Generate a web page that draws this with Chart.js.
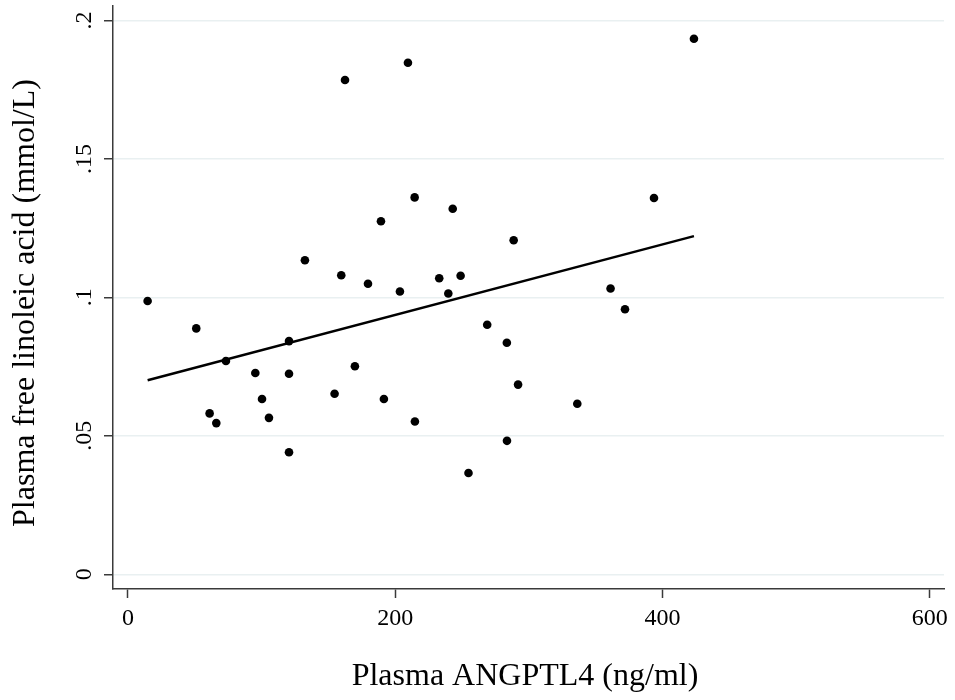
<!DOCTYPE html>
<html>
<head>
<meta charset="utf-8">
<script src="https://cdn.jsdelivr.net/npm/chart.js@4.4.1/dist/chart.umd.min.js"></script>
<style>
  html, body { margin: 0; padding: 0; background: #ffffff; }
  #wrap { width: 955px; height: 700px; position: relative; }
</style>
</head>
<body>
<div id="wrap"><canvas id="chart" width="955" height="700"></canvas></div>
<script>
// Plasma ANGPTL4 (ng/ml) per subject
const angptl4 = [
  14.7, 51.1, 61.1, 66.1, 73.3, 95.3, 100.3, 105.5, 120.5, 120.5,
  120.5, 132.4, 154.6, 159.6, 162.4, 169.8, 179.6, 189.3, 191.5, 203.5,
  209.5, 214.5, 214.7, 232.9, 239.7, 243.0, 248.9, 254.8, 268.8, 283.5,
  283.6, 288.6, 291.9, 336.2, 361.1, 371.9, 393.6, 423.5
];
// Plasma free linoleic acid (mmol/L) per subject
const linoleic = [
  0.0987, 0.0888, 0.0581, 0.0546, 0.0770, 0.0727, 0.0633, 0.0565, 0.0842, 0.0724,
  0.0441, 0.1134, 0.0652, 0.1080, 0.1785, 0.0751, 0.1049, 0.1275, 0.0633, 0.1021,
  0.1847, 0.1361, 0.0552, 0.1069, 0.1014, 0.1320, 0.1078, 0.0366, 0.0901, 0.0836,
  0.0482, 0.1206, 0.0685, 0.0616, 0.1032, 0.0957, 0.1359, 0.1934
];
// Linear fit, evaluated at the smallest and largest ANGPTL4 values
const fitX = [14.7, 423.5];
const fitY = [0.0701, 0.1221];

const xTicks = [0, 200, 400, 600];
const xTickLabels = ['0', '200', '400', '600'];
const yTicks = [0, 0.05, 0.1, 0.15, 0.2];
const yTickLabels = ['0', '.05', '.1', '.15', '.2'];

const xTitle = 'Plasma ANGPTL4 (ng/ml)';
const yTitle = 'Plasma free linoleic acid (mmol/L)';

const FONT = '"Liberation Serif", "Times New Roman", serif';
Chart.defaults.font.family = FONT;
Chart.defaults.color = '#000000';

const points = angptl4.map((v, i) => ({ x: v, y: linoleic[i] }));
const fitLine = fitX.map((v, i) => ({ x: v, y: fitY[i] }));

const axisTitles = {
  id: 'axisTitles',
  afterDraw(chart) {
    const ctx = chart.ctx;
    ctx.save();
    ctx.fillStyle = '#000000';
    ctx.font = '32px ' + FONT;
    ctx.textAlign = 'center';
    ctx.textBaseline = 'alphabetic';
    ctx.fillText(xTitle, 525, 685);
    ctx.translate(34, 303);
    ctx.rotate(-Math.PI / 2);
    ctx.fillText(yTitle, 0, 0);
    ctx.restore();
  }
};

new Chart(document.getElementById('chart'), {
  type: 'scatter',
  data: {
    datasets: [
      {
        type: 'line',
        data: fitLine,
        borderColor: '#000000',
        borderWidth: 2.5,
        pointRadius: 0,
        fill: false,
        tension: 0
      },
      {
        type: 'scatter',
        data: points,
        backgroundColor: '#000000',
        borderWidth: 0,
        pointRadius: 4.3,
        pointHoverRadius: 4.3
      }
    ]
  },
  options: {
    responsive: false,
    animation: false,
    devicePixelRatio: 1,
    layout: { padding: { left: 0, right: 11, top: 6, bottom: 0 } },
    plugins: {
      legend: { display: false },
      tooltip: { enabled: false }
    },
    scales: {
      x: {
        type: 'linear',
        position: 'bottom',
        min: -11.2,
        max: 610.6,
        afterBuildTicks: (scale) => { scale.ticks = xTicks.map(v => ({ value: v })); },
        afterFit: (scale) => {
          scale.height = 111;
          scale.paddingLeft = 0;
          scale.paddingRight = 0;
        },
        ticks: {
          autoSkip: false,
          maxRotation: 0,
          padding: 6,
          font: { size: 24, family: FONT },
          color: '#000000',
          callback: (value) => xTickLabels[xTicks.indexOf(value)]
        },
        grid: {
          drawOnChartArea: false,
          drawTicks: true,
          tickLength: 9,
          tickWidth: 1.5,
          tickColor: '#3a3a3a'
        },
        border: { display: true, color: '#3a3a3a', width: 1.5 }
      },
      y: {
        type: 'linear',
        position: 'left',
        min: -0.0053,
        max: 0.2052,
        afterBuildTicks: (scale) => { scale.ticks = yTicks.map(v => ({ value: v })); },
        afterFit: (scale) => {
          scale.width = 113;
          scale.paddingTop = 0;
          scale.paddingBottom = 0;
        },
        ticks: {
          autoSkip: false,
          minRotation: 90,
          maxRotation: 90,
          crossAlign: 'center',
          padding: 4,
          font: { size: 24, family: FONT },
          color: '#000000',
          callback: (value) => yTickLabels[yTicks.indexOf(value)]
        },
        grid: {
          drawOnChartArea: true,
          color: '#e9f0f1',
          lineWidth: 1.5,
          drawTicks: true,
          tickLength: 9,
          tickWidth: 1.5,
          tickColor: '#3a3a3a'
        },
        border: { display: true, color: '#3a3a3a', width: 1.5 }
      }
    }
  },
  plugins: [axisTitles]
});
</script>
</body>
</html>
